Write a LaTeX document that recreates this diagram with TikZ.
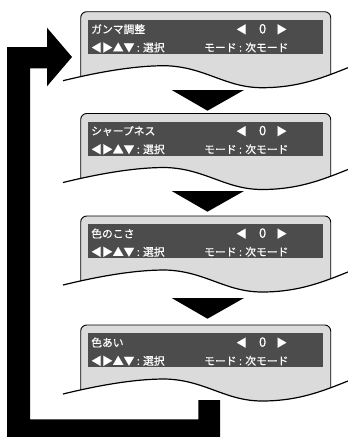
\documentclass[tikz,border=0pt]{standalone}
\usepackage{fontspec}
\setmainfont[FakeBold=0.4]{Noto Sans CJK JP}
\definecolor{panelgray}{gray}{0.86}
\definecolor{bargray}{gray}{0.30}
\begin{document}
\begin{tikzpicture}[x=1pt, y=-1pt,
    panel/.style={draw=black, line width=0.9pt, fill=panelgray, rounded corners=6pt},
    wave/.style={draw=black, line width=1.2pt},
    bar/.style={fill=bargray},
    osd/.style={text=white, inner sep=0pt, anchor=west, font=\fontsize{10.8}{12}\selectfont}]
    \useasboundingbox (0,0) rectangle (348,437);

    \foreach \y/\title [count=\i] in {11.7/ガンマ調整, 113.5/シャープネス, 216/色のこさ, 325/色あい} {
        \begin{scope}
            \clip (60,\y-5) -- (63,\y+69) .. controls (100,\y+60) and (135,\y+54) .. (165,\y+54)
                .. controls (205,\y+55) and (225,\y+76) .. (262,\y+76)
                .. controls (300,\y+76) and (325,\y+65) .. (348,\y+56) -- (350,\y-5) -- cycle;
            \draw[panel] (80.7,\y) rectangle (330.7,\y+95);
        \end{scope}
        \draw[wave] (63,\y+69) .. controls (100,\y+60) and (135,\y+54) .. (165,\y+54)
            .. controls (205,\y+55) and (225,\y+76) .. (262,\y+76)
            .. controls (300,\y+76) and (325,\y+65) .. (348,\y+56);

        \fill[bar] (87.7,\y+8.3) rectangle (323.3,\y+42.3);
        \node[osd] (title-\i) at (91,\y+17.5) {\title};
        \node[osd] (value-\i) at (236,\y+17.5) {◀\hspace{12pt}{\fontsize{13}{12}\selectfont 0}\hspace{10pt}▶};
        \node[osd] (keys-\i) at (91,\y+35.8) {◀▶▲▼ : 選択};
        \node[osd] (mode-\i) at (204,\y+35.8) {モード : 次モード};
    }

    \foreach \t in {90,191,298}
        \fill (171.7,\t) -- (244,\t) -- (207.5,\t+20.7) -- cycle;

    \fill (220,400) -- (220,437) -- (7,437) -- (7,47) -- (47,47) -- (47,27.7) -- (72,57)
        -- (47,86.3) -- (47,68.3) -- (30,68.3) -- (30,419.3) -- (198.3,419.3) -- (198.3,400) -- cycle;
\end{tikzpicture}
\end{document}
